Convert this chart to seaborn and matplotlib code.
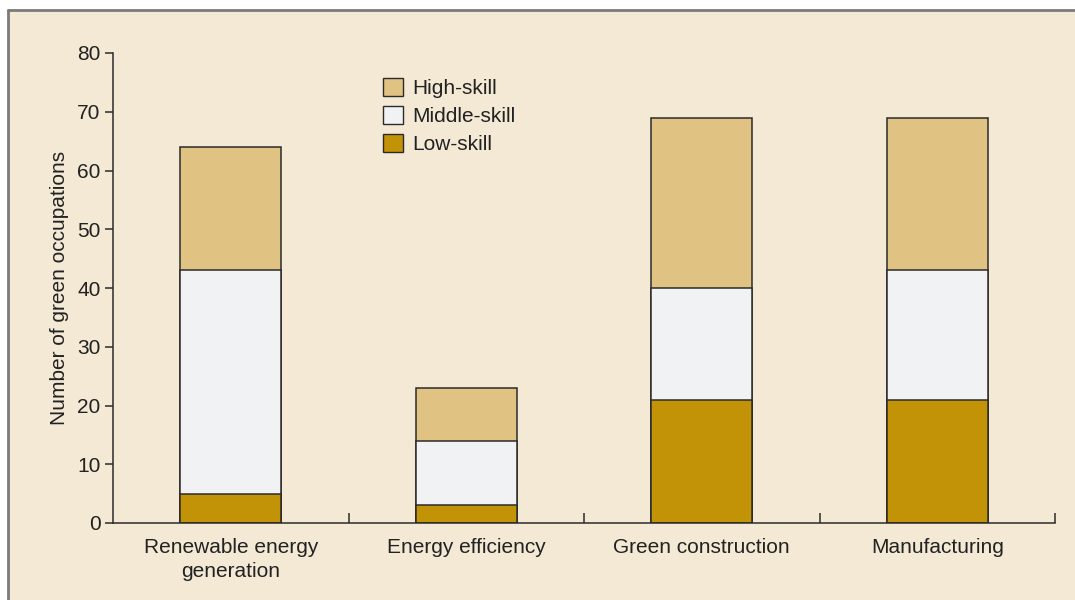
import numpy as np
import pandas as pd
import matplotlib
matplotlib.use('Agg')
import matplotlib.pyplot as plt
import seaborn as sns
from matplotlib.patches import Patch
from matplotlib.lines import Line2D

# Data
sectors = ['Renewable energy\ngeneration', 'Energy efficiency', 'Green construction', 'Manufacturing']
low_skill = [5, 3, 21, 21]
middle_skill = [38, 11, 19, 22]
high_skill = [21, 9, 29, 26]

bg = '#F3E9D4'
c_high = '#E0C283'
c_mid = '#F1F2F4'
c_low = '#C39307'
edge = '#2b2b2b'
txt = '#222222'
fs = 15

sns.set_theme(style='ticks')
plt.rcParams['font.family'] = ['Liberation Sans', 'DejaVu Sans']

df = pd.DataFrame({'Sector': sectors, 'Low': low_skill, 'Middle': middle_skill, 'High': high_skill})
df['LowTop'] = df['Low']
df['MidTop'] = df['Low'] + df['Middle']
df['HighTop'] = df['MidTop'] + df['High']

fig = plt.figure(figsize=(10.75, 6), dpi=100, facecolor='white')

# beige panel with grey frame on top and left
fig.patches.append(plt.Rectangle((8 / 1075, 0), 1, (590) / 600, transform=fig.transFigure,
                                 facecolor=bg, edgecolor='none', zorder=-10))
fig.add_artist(Line2D([8 / 1075, 1], [590 / 600, 590 / 600], transform=fig.transFigure,
                      color='#7a7a7a', lw=2, zorder=-5))
fig.add_artist(Line2D([8 / 1075, 8 / 1075], [0, 590 / 600], transform=fig.transFigure,
                      color='#7a7a7a', lw=2, zorder=-5))

ax = fig.add_axes([113 / 1075, 77 / 600, (1055 - 113) / 1075, (523 - 53) / 600])
ax.set_facecolor('none')

w = 0.43
sns.barplot(data=df, x='Sector', y='HighTop', color=c_high, edgecolor=edge, linewidth=1.1,
            width=w, saturation=1, ax=ax)
sns.barplot(data=df, x='Sector', y='MidTop', color=c_mid, edgecolor=edge, linewidth=1.1,
            width=w, saturation=1, ax=ax)
sns.barplot(data=df, x='Sector', y='LowTop', color=c_low, edgecolor=edge, linewidth=1.1,
            width=w, saturation=1, ax=ax)

ax.set_xlim(-0.5, 3.5)
ax.set_ylim(0, 80)
ax.set_yticks(np.arange(0, 81, 10))
ax.set_xlabel('')
ax.set_ylabel('Number of green occupations', fontsize=fs, color=txt, labelpad=6)

for s in ['top', 'right']:
    ax.spines[s].set_visible(False)
for s in ['left', 'bottom']:
    ax.spines[s].set_color(edge)
    ax.spines[s].set_linewidth(1.1)

ax.tick_params(axis='y', direction='out', length=6, width=1.1, color=edge,
               labelsize=fs, labelcolor=txt, pad=3)
ax.tick_params(axis='x', which='major', length=0, labelsize=fs, labelcolor=txt, pad=11)
for lab in ax.get_xticklabels():
    lab.set_linespacing(1.3)
ax.set_xticks([0.5, 1.5, 2.5, 3.5], minor=True)
ax.tick_params(axis='x', which='minor', direction='in', length=7, width=1.1, color=edge)

handles = [Patch(facecolor=c_high, edgecolor=edge, label='High-skill'),
           Patch(facecolor=c_mid, edgecolor=edge, label='Middle-skill'),
           Patch(facecolor=c_low, edgecolor=edge, label='Low-skill')]
ax.legend(handles=handles, loc='upper left', bbox_to_anchor=(0.278, 0.965), frameon=False,
          fontsize=fs, handlelength=0.95, handleheight=0.95, handletextpad=0.45,
          labelspacing=0.38, labelcolor=txt, borderaxespad=0)

fig.savefig('out.png', dpi=100, facecolor='white')
